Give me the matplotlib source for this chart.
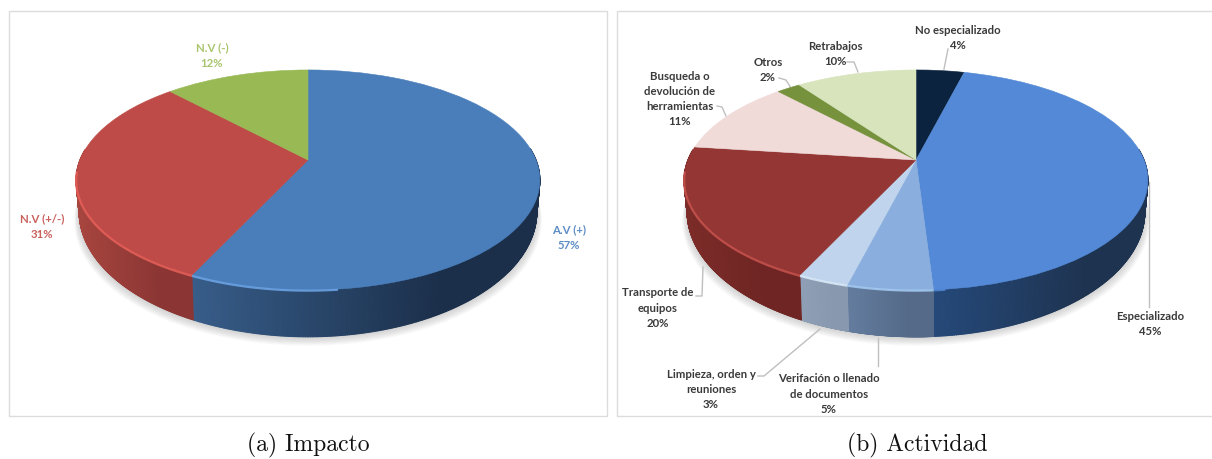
import numpy as np
from matplotlib import pyplot as plt
from matplotlib.collections import PolyCollection
from matplotlib.colors import to_rgb
from matplotlib.patches import Rectangle
from matplotlib.transforms import Transform

# pie (a) Impacto, clockwise from the top
impacto_labels = ['A.V (+)', 'N.V (+/-)', 'N.V (-)']
impacto_values = [57, 31, 12]
impacto_top = ['#4a7ebb', '#be4b48', '#98b954']
impacto_wall_left = ['#375d89', '#a8453f', '#98b954']
impacto_wall_right = ['#1b2f4a', '#8b3634', '#98b954']
impacto_rim = ['#6ea6e8', '#e8605a', '#98b954']

# pie (b) Actividad, clockwise from the top
actividad_labels = ['No especializado', 'Especializado', 'Verifación o llenado\nde documentos',
                    'Limpieza, orden y\nreuniones', 'Transporte de\nequipos',
                    'Busqueda o\ndevolución de\nherramientas', 'Otros', 'Retrabajos']
actividad_values = [4, 45, 5, 3, 20, 11, 2, 10]
actividad_top = ['#0c2340', '#5389d6', '#8aafde', '#c0d5ed', '#943634', '#f0dbd9', '#76923c', '#d7e4bc']
actividad_wall_left = ['#0c2340', '#25497a', '#647d9f', '#8f9fb5', '#7c2c29', '#f0dbd9', '#76923c', '#d7e4bc']
actividad_wall_right = ['#0c2340', '#1e3350', '#546a88', '#8898ae', '#6e2523', '#f0dbd9', '#76923c', '#d7e4bc']
actividad_rim = ['#0c2340', '#5389d6', '#a6cdf5', '#dcecfb', '#c9534e', '#f0dbd9', '#76923c', '#d7e4bc']

# disc seen in perspective: top face and bottom edge of the cylinder
TILT = 0.1818
TOP_Y, TOP_A, TOP_B = 160, 228, 106.4
LOW_Y, LOW_A, LOW_B = 189, 225, 120.9


class DiscPerspective(Transform):
    input_dims = 2
    output_dims = 2

    def __init__(self, cx, cy, a, b):
        super().__init__()
        self.cx, self.cy, self.a, self.b = cx, cy, a, b

    def transform_non_affine(self, values):
        values = np.asarray(values, dtype=float)
        w = 1 + TILT * values[:, 1]
        return np.column_stack([self.cx + self.a * values[:, 0] / w,
                                self.cy - self.b * values[:, 1] / w])


fig = plt.figure(figsize=(12.12, 4.59), dpi=100)
ax = fig.add_axes([0, 0, 1, 1])


def draw_pie(cx, values, top, wall_left, wall_right, rim):
    top_map = DiscPerspective(cx, TOP_Y, TOP_A, TOP_B)
    low_map = DiscPerspective(cx, LOW_Y, LOW_A, LOW_B)

    wedges, _ = ax.pie(values, colors=top, startangle=90, counterclock=False,
                       wedgeprops={'linewidth': 0.4}, normalize=True)

    # soft shadow under the disc
    t = np.radians(np.arange(0, 361, 3))
    ring = np.column_stack([np.cos(t), np.sin(t)])
    for grow in np.arange(1, 11):
        pts = low_map.transform(ring)
        pts[:, 0] = cx + (pts[:, 0] - cx) * (1 + grow * 0.0022)
        pts[:, 1] = pts[:, 1] + grow * 0.9
        ax.fill(pts[:, 0], pts[:, 1], color='#9a9a9a', alpha=0.05, lw=0, zorder=1)

    for i, w in enumerate(wedges):
        w.set_edgecolor(top[i])
        w.set_transform(top_map + ax.transData)
        w.set_clip_on(False)
        w.set_zorder(4)

        # side wall of the slice, shaded left to right
        t = np.radians(np.linspace(w.theta1, w.theta2, 400))
        edge = np.column_stack([np.cos(t), np.sin(t)])
        up = top_map.transform(edge)
        low = low_map.transform(edge)
        c0, c1 = np.array(to_rgb(wall_left[i])), np.array(to_rgb(wall_right[i]))
        span = max(up[:, 0].max() - up[:, 0].min(), 1)
        quads, cols = [], []
        for j in range(len(t) - 1):
            if edge[j, 1] > 0.1:
                continue
            quads.append([up[j], up[j + 1], low[j + 1], low[j]])
            mix = (up[j, 0] - up[:, 0].min()) / span
            cols.append(c0 + (c1 - c0) * min(mix * 1.4, 1))
        if quads:
            ax.add_collection(PolyCollection(quads, facecolors=cols, edgecolors=cols,
                                             linewidths=0.8, zorder=3))

        # bright lip along the front of the top face, left part only
        front = (edge[:, 1] < -0.1) & (up[:, 0] < cx + 30)
        if front.any():
            ax.plot(up[front, 0], up[front, 1] + 0.6, color=rim[i], lw=1.6, alpha=0.85,
                    zorder=5, solid_capstyle='butt')


draw_pie(308, impacto_values, impacto_top, impacto_wall_left, impacto_wall_right, impacto_rim)
draw_pie(916, actividad_values, actividad_top, actividad_wall_left, actividad_wall_right, actividad_rim)

ax.set_aspect('auto')
ax.set_xlim(0, 1212)
ax.set_ylim(459, 0)
ax.axis('off')

# panel frames
ax.add_patch(Rectangle((8.5, 10.5), 598, 405, fill=False, ec='#dcdcdc', lw=1.0, zorder=0))
ax.add_patch(Rectangle((616.5, 10.5), 600, 405, fill=False, ec='#dcdcdc', lw=1.0, zorder=0))


def label(x, y, name, value, color='#3a3a3a'):
    ax.text(x, y + 1.5, f'{name}\n{value}%', ha='center', va='top', color=color, family='Lato',
            fontweight='bold', fontsize=8.2, linespacing=1.47, zorder=8)


label(212, 41, impacto_labels[2], impacto_values[2], '#a9c46c')
label(42, 212, impacto_labels[1], impacto_values[1], '#c9605c')
label(569, 223, impacto_labels[0], impacto_values[0], '#5d8cc6')

label(958, 23, actividad_labels[0], actividad_values[0])
label(1150, 309, actividad_labels[1], actividad_values[1])
label(829, 372, actividad_labels[2], actividad_values[2])
label(711, 367, actividad_labels[3], actividad_values[3])
label(658, 286, actividad_labels[4], actividad_values[4])
label(680, 69, actividad_labels[5], actividad_values[5])
label(768, 55, actividad_labels[6], actividad_values[6])
label(835, 39, actividad_labels[7], actividad_values[7])

# leader lines
leaders = [
    ([948, 944], [49, 69]),
    ([847, 854, 858], [62, 62, 72]),
    ([779, 786, 791], [78, 80, 88]),
    ([717, 722, 726], [106, 107, 116]),
    ([1149, 1149], [182, 307]),
    ([703, 702, 696], [267, 296, 296]),
    ([758, 764, 820], [376, 376, 329]),
    ([878, 878], [338, 366]),
]
for xs, ys in leaders:
    ax.plot(xs, ys, color='#bfbfbf', lw=1.0, zorder=2)

# captions
ax.text(308, 445, '(a) Impacto', ha='center', va='center', family='cmr10', fontsize=17, color='#111111')
ax.text(917, 445, '(b) Actividad', ha='center', va='center', family='cmr10', fontsize=17, color='#111111')

plt.savefig('out.png', dpi=100)
